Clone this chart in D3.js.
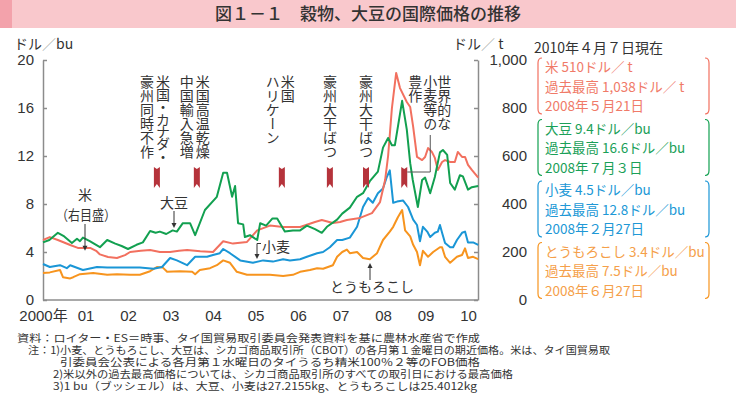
<!DOCTYPE html>
<html><head><meta charset="utf-8">
<script src="https://cdn.jsdelivr.net/npm/d3@7"></script>
<style>
html,body{margin:0;padding:0;background:#fff;}
svg{display:block;font-family:"Noto Sans CJK JP","Noto Sans",sans-serif;}
.vt{writing-mode:vertical-rl;text-orientation:mixed;}
</style></head>
<body>
<svg id="chart" width="736" height="411"></svg>
<script>
// ---- data (year as decimal, value) ----
const soybean = [[2000.00,4.8],[2000.15,5.0],[2000.35,5.6],[2000.5,5.3],[2000.68,4.75],[2000.8,5.1],[2000.87,4.9],[2000.94,5.2],[2001.1,4.9],[2001.34,4.4],[2001.51,5.0],[2001.7,4.7],[2001.85,4.5],[2002.0,4.25],[2002.2,4.6],[2002.35,4.8],[2002.52,5.75],[2002.65,5.6],[2002.75,5.7],[2002.9,5.5],[2003.05,5.8],[2003.15,5.7],[2003.29,6.4],[2003.46,6.4],[2003.58,5.4],[2003.81,7.5],[2004.09,8.6],[2004.24,10.6],[2004.33,10.6],[2004.45,8.6],[2004.52,9.5],[2004.59,6.4],[2004.71,6.3],[2004.75,5.25],[2004.87,5.4],[2005.04,5.0],[2005.11,6.4],[2005.25,6.2],[2005.4,6.8],[2005.51,6.8],[2005.69,5.7],[2005.88,5.8],[2006.05,5.8],[2006.21,6.2],[2006.4,5.9],[2006.56,5.6],[2006.68,6.1],[2006.92,6.7],[2007.04,7.2],[2007.22,7.7],[2007.39,8.6],[2007.53,8.9],[2007.69,9.9],[2007.88,10.7],[2008.0,12.7],[2008.12,13.5],[2008.21,12.9],[2008.28,12.9],[2008.45,16.6],[2008.56,14.2],[2008.64,11.4],[2008.7,10.0],[2008.82,7.75],[2008.92,10.0],[2008.99,10.2],[2009.11,8.9],[2009.22,10.25],[2009.34,12.3],[2009.41,12.5],[2009.51,12.1],[2009.58,9.75],[2009.69,9.2],[2009.81,10.4],[2009.88,10.3],[2010.0,9.2],[2010.09,9.4],[2010.24,9.5]];
const rice = [[2000.0,250],[2000.16,262],[2000.35,250],[2000.64,229],[2000.82,217],[2001.11,217],[2001.25,205],[2001.34,190],[2001.53,179],[2001.74,175],[2001.93,187],[2002.05,200],[2002.3,205],[2002.52,208],[2002.75,200],[2002.99,200],[2003.2,205],[2003.39,208],[2003.7,203],[2004.0,200],[2004.24,245],[2004.47,235],[2004.8,242],[2004.94,270],[2005.04,290],[2005.34,310],[2005.65,304],[2006.05,304],[2006.4,325],[2006.56,333],[2006.82,321],[2006.99,325],[2007.15,333],[2007.46,342],[2007.74,362],[2007.93,408],[2008.05,500],[2008.12,600],[2008.21,800],[2008.31,946],[2008.4,883],[2008.56,825],[2008.64,804],[2008.71,721],[2008.8,596],[2008.92,583],[2008.99,596],[2009.06,633],[2009.15,617],[2009.22,592],[2009.29,542],[2009.39,575],[2009.46,583],[2009.58,575],[2009.69,575],[2009.76,617],[2009.86,596],[2009.93,596],[2010.0,563],[2010.09,542],[2010.24,510]];
const wheat = [[2000.0,3.0],[2000.16,2.75],[2000.4,2.9],[2000.56,2.65],[2000.64,2.9],[2000.94,2.5],[2001.27,2.75],[2001.51,2.7],[2001.98,2.7],[2002.28,2.7],[2002.6,2.6],[2002.8,2.75],[2002.99,3.5],[2003.15,3.3],[2003.39,2.9],[2003.58,3.6],[2003.86,3.6],[2004.0,3.75],[2004.16,3.9],[2004.24,4.25],[2004.4,3.9],[2004.64,3.3],[2004.94,3.1],[2005.18,3.3],[2005.41,3.2],[2005.65,3.4],[2005.81,3.3],[2006.05,3.4],[2006.21,3.6],[2006.45,3.9],[2006.59,4.0],[2006.75,4.4],[2006.92,5.0],[2007.04,5.0],[2007.22,5.2],[2007.39,6.1],[2007.53,7.75],[2007.65,8.5],[2007.76,8.1],[2007.88,8.9],[2008.0,9.3],[2008.09,10.25],[2008.16,10.8],[2008.24,8.1],[2008.33,8.2],[2008.47,8.3],[2008.59,7.75],[2008.71,6.7],[2008.8,6.25],[2008.87,4.9],[2008.94,6.1],[2009.04,5.7],[2009.11,5.25],[2009.22,5.6],[2009.29,5.7],[2009.34,6.25],[2009.39,5.6],[2009.46,4.75],[2009.58,4.4],[2009.65,4.4],[2009.74,5.0],[2009.86,5.6],[2009.93,5.7],[2010.0,4.8],[2010.12,4.8],[2010.24,4.6]];
const corn = [[2000.0,2.25],[2000.16,2.3],[2000.4,2.5],[2000.47,1.9],[2000.64,1.8],[2000.71,1.9],[2000.87,2.15],[2001.18,2.25],[2001.51,2.1],[2001.74,2.15],[2002.05,2.1],[2002.28,2.1],[2002.52,2.4],[2002.68,2.75],[2002.82,2.7],[2002.92,2.35],[2003.22,2.4],[2003.51,2.35],[2003.58,2.15],[2003.69,2.5],[2003.93,2.65],[2004.09,2.9],[2004.24,3.3],[2004.4,3.1],[2004.56,2.35],[2004.8,2.1],[2005.04,2.1],[2005.34,2.1],[2005.65,2.0],[2005.88,2.1],[2006.05,2.35],[2006.28,2.5],[2006.45,2.65],[2006.59,2.6],[2006.82,2.9],[2006.92,3.6],[2007.04,4.0],[2007.15,4.2],[2007.22,3.9],[2007.39,4.0],[2007.53,3.5],[2007.69,3.4],[2007.86,3.9],[2008.0,5.0],[2008.16,5.7],[2008.24,6.1],[2008.35,6.9],[2008.45,7.5],[2008.52,5.8],[2008.64,5.3],[2008.71,4.6],[2008.8,4.0],[2008.87,2.9],[2008.94,4.1],[2009.06,3.6],[2009.18,4.0],[2009.34,4.4],[2009.39,4.4],[2009.46,3.6],[2009.58,3.1],[2009.74,3.6],[2009.86,3.75],[2009.93,4.3],[2010.0,3.5],[2010.12,3.6],[2010.24,3.4]];

const years = [2000,2001,2002,2003,2004,2005,2006,2007,2008,2009,2010];
const leftTicks = [0,4,8,12,16,20];
const rightTicks = [0,200,400,600,800,1000];

const events = [
  {t:2002.68, cols:[{dx:-10,text:"豪州同時不作"},{dx:6,text:"米国・カナダ・",ls:-1.6}]},
  {t:2003.62, cols:[{dx:-10,text:"中国輸入急増"},{dx:6,text:"米国高温乾燥"}]},
  {t:2005.62, cols:[{dx:-9,text:"ハリケーン"},{dx:6,text:"米国"}]},
  {t:2006.75, cols:[{dx:0,text:"豪州大干ばつ"}]},
  {t:2007.6,  cols:[{dx:0,text:"豪州大干ばつ"}]},
  {t:2008.5,  cols:[{dx:11,text:"豊作"},{dx:26,text:"小麦等の"},{dx:40,text:"世界的な"}]}
];

const legendTitle = "2010年４月７日現在";
const legendGroups = [
  {key:"rice",  lines:["米 510ドル／ t","過去最高 1,038ドル／ t","2008年５月21日"]},
  {key:"soy",   lines:["大豆 9.4ドル／bu","過去最高 16.6ドル／bu","2008年７月３日"]},
  {key:"wheat", lines:["小麦 4.5ドル／bu","過去最高 12.8ドル／bu","2008年２月27日"]},
  {key:"corn",  lines:["とうもろこし 3.4ドル／bu","過去最高 7.5ドル／bu","2008年６月27日"]}
];

const notes = [
  {text:"資料：ロイター・ES＝時事、タイ国貿易取引委員会発表資料を基に農林水産省で作成", x:17, len:463},
  {text:"注：1)小麦、とうもろこし、大豆は、シカゴ商品取引所（CBOT）の各月第１金曜日の期近価格。米は、タイ国貿易取", x:28, len:582},
  {text:"引委員会公表による各月第１水曜日のタイうるち精米100％２等のFOB価格", x:60, len:420},
  {text:"2)米以外の過去最高価格については、シカゴ商品取引所のすべての取引日における最高価格", x:53, len:460},
  {text:"3)1 bu（ブッシェル）は、大豆、小麦は27.2155kg、とうもろこしは25.4012kg", x:53, len:424}
];

const colors = {rice:"#F2705F", soy:"#12A050", wheat:"#1A96D6", corn:"#F7941E"};
const textColors = {rice:"#F07A68", soy:"#1AA058", wheat:"#2098D6", corn:"#F5A04A"};

// ---- drawing ----
const svg = d3.select("#chart");
const X0 = 43, X1 = 478, Y0 = 300, Y1 = 60;
const x = d3.scaleLinear().domain([2000,2010]).range([X0,468]);
const yL = d3.scaleLinear().domain([0,20]).range([Y0,Y1]);
const yR = d3.scaleLinear().domain([0,1000]).range([Y0,Y1]);

svg.append("rect").attr("x",0).attr("y",0).attr("width",736).attr("height",28).attr("fill","#F9C8CC");
svg.append("rect").attr("x",0).attr("y",0).attr("width",12).attr("height",28).attr("fill","#F3A2AB");
svg.append("text").attr("x",368).attr("y",20).attr("text-anchor","middle")
  .attr("font-size",17).attr("fill","#333").attr("font-weight",500)
  .text("図１－１　穀物、大豆の国際価格の推移");

function unit(xp, parts){
  const t = svg.append("text").attr("x",xp).attr("y",49).attr("font-size",14).attr("fill","#333");
  t.append("tspan").text(parts[0]);
  t.append("tspan").attr("fill","#aaa").attr("font-weight",300).text("／");
  t.append("tspan").text(parts[1]);
}
unit(14, ["ドル","bu"]);
unit(453, ["ドル"," t"]);

const axisColor = "#8c8c8c";
const gl = svg.append("g").attr("transform",`translate(${X0},0)`)
  .call(d3.axisLeft(yL).tickValues(leftTicks).tickSize(-4).tickSizeOuter(0).tickPadding(9));
const gr = svg.append("g").attr("transform",`translate(${X1},0)`)
  .call(d3.axisRight(yR).tickValues(rightTicks).tickFormat(d3.format(",")).tickSize(-4).tickSizeOuter(0).tickPadding(49));
gr.selectAll(".tick text").attr("text-anchor","end");
const gb = svg.append("g").attr("transform",`translate(0,${Y0})`)
  .call(d3.axisBottom(x).tickValues(years).tickSize(0).tickPadding(10)
    .tickFormat(d => d===2000 ? "2000年" : String(d%100).padStart(2,"0")));
gb.select(".domain").remove();
[gl,gr,gb].forEach(g=>{
  g.selectAll("text").attr("font-size",15).attr("fill","#333").attr("font-family","'Liberation Sans','Noto Sans CJK JP',sans-serif");
  g.selectAll("line").attr("stroke",axisColor).attr("stroke-width",1.5);
  g.selectAll(".domain").attr("stroke",axisColor).attr("stroke-width",1.5);
});
svg.append("line").attr("x1",X0).attr("x2",X1).attr("y1",Y0).attr("y2",Y0).attr("stroke",axisColor).attr("stroke-width",1.5);

const lineL = d3.line().x(d=>x(d[0])).y(d=>yL(d[1]));
const lineR = d3.line().x(d=>x(d[0])).y(d=>yR(d[1]));
function drawLine(data, gen, color){
  svg.append("path").datum(data).attr("d",gen).attr("fill","none")
    .attr("stroke",color).attr("stroke-width",2).attr("stroke-linejoin","round");
}
drawLine(corn, lineL, colors.corn);
drawLine(wheat, lineL, colors.wheat);
drawLine(rice, lineR, colors.rice);
drawLine(soybean, lineL, colors.soy);

const markTop = 167, markBot = 188;
events.forEach(ev=>{
  const mx = x(ev.t);
  svg.append("path").attr("fill","#B5333B")
    .attr("d",`M${mx-3},${markTop} L${mx},${markTop+2} L${mx+3},${markTop} L${mx+3},${markBot} L${mx},${markBot-4} L${mx-3},${markBot} Z`);
  ev.cols.forEach(c=>{
    const t = svg.append("text").attr("class","vt").attr("x",mx+c.dx).attr("y",75)
      .attr("font-size",14).attr("fill","#333").text(c.text);
    if(c.ls) t.attr("letter-spacing",c.ls);
  });
});
{
  const mx = x(2008.5);
  svg.append("path").attr("fill","none").attr("stroke","#555").attr("stroke-width",1)
    .attr("d",`M${mx+26},135 V172 H${mx+3}`);
}

function arrowDown(ax, y1, y2){
  svg.append("line").attr("x1",ax).attr("x2",ax).attr("y1",y1).attr("y2",y2-3).attr("stroke","#333").attr("stroke-width",1);
  svg.append("path").attr("fill","#333").attr("d",`M${ax-2.5},${y2-5} L${ax+2.5},${y2-5} L${ax},${y2} Z`);
}
function label(tx, ty, s, len){
  const t = svg.append("text").attr("x",tx).attr("y",ty).attr("text-anchor","middle").attr("font-size",14).attr("fill","#333").text(s);
  if(len) t.attr("textLength",len).attr("lengthAdjust","spacingAndGlyphs");
  return t;
}
label(85, 200, "米");
label(86, 220, "（右目盛）", 60);
arrowDown(85, 224, yR(205));
label(174, 208, "大豆");
arrowDown(174, 211, yL(6.0));
svg.append("text").attr("x",262).attr("y",252).attr("font-size",14).attr("fill","#333").text("小麦");
svg.append("path").attr("fill","none").attr("stroke","#333").attr("stroke-width",1).attr("d","M261,243.5 H257 V255");
svg.append("path").attr("fill","#333").attr("d","M254.5,254 L259.5,254 L257,259 Z");
label(372, 292, "とうもろこし");
svg.append("line").attr("x1",370).attr("x2",370).attr("y1",280).attr("y2",266).attr("stroke","#333").attr("stroke-width",1);
svg.append("path").attr("fill","#333").attr("d","M367.5,268 L372.5,268 L370,263 Z");

svg.append("text").attr("x",534).attr("y",53).attr("font-size",14).attr("fill","#333").text(legendTitle);
const LX = 538, RX = 709;
legendGroups.forEach((g,i)=>{
  const top = 58 + i*61.5, bot = top + 56;
  const col = colors[g.key];
  svg.append("path").attr("fill","none").attr("stroke",col).attr("stroke-width",1.2)
    .attr("d",`M${LX+4},${top} Q${LX},${top} ${LX},${top+5} V${bot-5} Q${LX},${bot} ${LX+4},${bot}`);
  svg.append("path").attr("fill","none").attr("stroke",col).attr("stroke-width",1.2)
    .attr("d",`M${RX-4},${top} Q${RX},${top} ${RX},${top+5} V${bot-5} Q${RX},${bot} ${RX-4},${bot}`);
  g.lines.forEach((ln,j)=>{
    svg.append("text").attr("x",545).attr("y",top+14+j*19.5).attr("font-size",13.5)
      .attr("fill",textColors[g.key]).text(ln);
  });
});

notes.forEach((n,i)=>{
  svg.append("text").attr("x",n.x).attr("y",342+i*12).attr("font-size",10.5).attr("fill","#333")
    .attr("textLength",n.len).attr("lengthAdjust","spacingAndGlyphs").text(n.text);
});
</script>
</body></html>
